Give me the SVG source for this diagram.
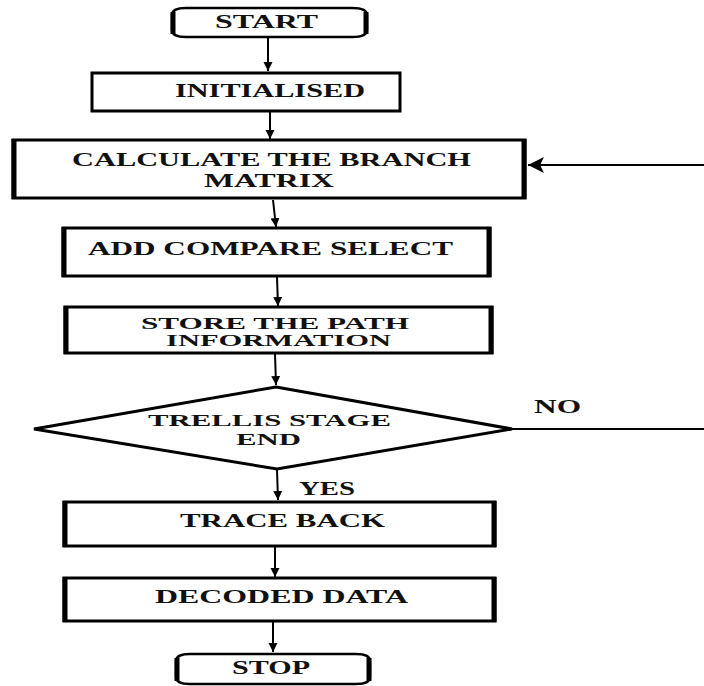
<svg xmlns="http://www.w3.org/2000/svg" width="704" height="686" viewBox="0 0 704 686">
<style>
  .box { fill: #fff; stroke: #000; stroke-width: 3; }
  .side { stroke: #000; stroke-width: 5; fill: none; }
  .term { fill: #fff; stroke: #000; stroke-width: 2.5; }
  .dia { fill: #fff; stroke: #000; stroke-width: 3; }
  .lbl { font-family: "Liberation Serif", "Times New Roman", serif; font-weight: bold; font-size: 18px; fill: #111; }
  .sm { font-size: 16px; }
  .md { font-size: 17px; }
  .conn { stroke: #000; stroke-width: 2; fill: none; }
</style>
<defs>
  <marker id="ah" markerWidth="10" markerHeight="10" refX="9" refY="5" orient="auto" markerUnits="userSpaceOnUse">
    <path d="M0,0.5 L9,5 L0,9.5 Z" fill="#000"/>
  </marker>
  <marker id="ahBig" markerWidth="17" markerHeight="17" refX="16" refY="8" orient="auto" markerUnits="userSpaceOnUse">
    <path d="M0,0 L16,8 L0,16 L4,8 Z" fill="#000"/>
  </marker>
</defs>
<rect width="704" height="686" fill="#fff"/>

<g id="connectors">
  <line class="conn" x1="268" y1="38" x2="268" y2="71" marker-end="url(#ah)"/>
  <line class="conn" x1="270" y1="112" x2="270" y2="139" marker-end="url(#ah)"/>
  <line class="conn" x1="273" y1="200" x2="276" y2="227" marker-end="url(#ah)"/>
  <line class="conn" x1="277" y1="277" x2="278" y2="306" marker-end="url(#ah)"/>
  <line class="conn" x1="275" y1="354" x2="276" y2="385" marker-end="url(#ah)"/>
  <line class="conn" x1="277" y1="470" x2="278" y2="500" marker-end="url(#ah)"/>
  <line class="conn" x1="275" y1="547" x2="275" y2="577" marker-end="url(#ah)"/>
  <line class="conn" x1="273" y1="622" x2="273" y2="652" marker-end="url(#ah)"/>
  <line class="conn" x1="512" y1="429" x2="704" y2="429"/>
  <line class="conn" x1="704" y1="165" x2="528" y2="165" marker-end="url(#ahBig)"/>
  <text class="lbl" x="534" y="413" textLength="47" lengthAdjust="spacingAndGlyphs">NO</text>
  <text class="lbl" x="299" y="495" textLength="56" lengthAdjust="spacingAndGlyphs">YES</text>
</g>

<g id="start">
  <path class="term" d="M186,8 H352 Q367,8 367,15 V30 Q367,37 352,37 H186 Q172,37 172,30 V15 Q172,8 186,8 Z"/>
  <line class="side" x1="173" y1="12" x2="173" y2="34"/>
  <line class="side" x1="366" y1="12" x2="366" y2="34"/>
  <text class="lbl" x="215" y="28" textLength="103" lengthAdjust="spacingAndGlyphs">START</text>
</g>

<g id="initialised">
  <rect class="box" x="92" y="73" width="308" height="38"/>
  <text class="lbl" x="175" y="97" textLength="190" lengthAdjust="spacingAndGlyphs">INITIALISED</text>
</g>

<g id="calculate">
  <rect class="box" x="13" y="140" width="512" height="58"/>
  <line class="side" x1="14" y1="139" x2="14" y2="199"/>
  <line class="side" x1="524" y1="139" x2="524" y2="199"/>
  <text class="lbl" x="72" y="166" textLength="399" lengthAdjust="spacingAndGlyphs">CALCULATE THE BRANCH</text>
  <text class="lbl" x="204" y="187" textLength="130" lengthAdjust="spacingAndGlyphs">MATRIX</text>
</g>

<g id="acs">
  <rect class="box" x="63" y="228" width="427" height="48"/>
  <line class="side" x1="64" y1="227" x2="64" y2="277"/>
  <line class="side" x1="489" y1="227" x2="489" y2="277"/>
  <text class="lbl" x="88" y="255" textLength="365" lengthAdjust="spacingAndGlyphs">ADD COMPARE SELECT</text>
</g>

<g id="store">
  <rect class="box" x="65" y="307" width="427" height="46"/>
  <line class="side" x1="66" y1="306" x2="66" y2="354"/>
  <line class="side" x1="491" y1="306" x2="491" y2="354"/>
  <text class="lbl sm" x="141" y="329" textLength="268" lengthAdjust="spacingAndGlyphs">STORE THE PATH</text>
  <text class="lbl sm" x="166" y="346" textLength="225" lengthAdjust="spacingAndGlyphs">INFORMATION</text>
</g>

<g id="trellis">
  <polygon class="dia" points="276,387 512,429 277,469 34,429"/>
  <text class="lbl md" x="148" y="426" textLength="243" lengthAdjust="spacingAndGlyphs">TRELLIS STAGE</text>
  <text class="lbl md" x="236" y="445" textLength="65" lengthAdjust="spacingAndGlyphs">END</text>
</g>

<g id="traceback">
  <rect class="box" x="64" y="502" width="431" height="44"/>
  <line class="side" x1="65" y1="501" x2="65" y2="547"/>
  <line class="side" x1="494" y1="501" x2="494" y2="547"/>
  <text class="lbl" x="180" y="527" textLength="205" lengthAdjust="spacingAndGlyphs">TRACE BACK</text>
</g>

<g id="decoded">
  <rect class="box" x="64" y="578" width="431" height="43"/>
  <line class="side" x1="65" y1="577" x2="65" y2="622"/>
  <line class="side" x1="494" y1="577" x2="494" y2="622"/>
  <text class="lbl" x="155" y="603" textLength="253" lengthAdjust="spacingAndGlyphs">DECODED DATA</text>
</g>

<g id="stop">
  <path class="term" d="M190,654 H356 Q370,654 370,661 V677 Q370,684 356,684 H190 Q176,684 176,677 V661 Q176,654 190,654 Z"/>
  <line class="side" x1="177" y1="658" x2="177" y2="681"/>
  <line class="side" x1="369" y1="658" x2="369" y2="681"/>
  <text class="lbl" x="232" y="674" textLength="78" lengthAdjust="spacingAndGlyphs">STOP</text>
</g>
</svg>
